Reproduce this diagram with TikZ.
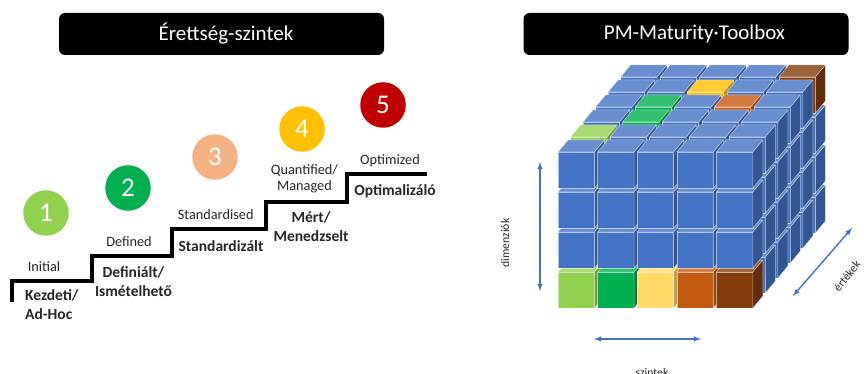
\documentclass[tikz,border=0pt]{standalone}
\usepackage{fontspec}
\setmainfont{Carlito}
\definecolor{cubeblue}{HTML}{4472C4}
\definecolor{lvlone}{HTML}{92D050}
\definecolor{lvltwo}{HTML}{00B050}
\definecolor{lvlthree}{HTML}{F4B183}
\definecolor{lvlfour}{HTML}{FFC000}
\definecolor{lvlfive}{HTML}{C00000}
\definecolor{cubeyellow}{HTML}{FFD966}
\definecolor{cubeorange}{HTML}{C55A11}
\definecolor{cubebrown}{HTML}{843C0C}
\definecolor{labelgray}{HTML}{262626}
\begin{document}
\begin{tikzpicture}[x=1pt,y=-1pt,
    titlebox/.style={fill=black,rounded corners=6pt,minimum width=325pt,
        minimum height=42pt,inner sep=0pt},
    titletext/.style={text=white,font=\fontsize{21}{25}\selectfont,inner sep=0pt},
    lvl/.style={circle,minimum size=45.5pt,inner sep=0pt,text=white,
        font=\fontsize{27}{30}\selectfont},
    en/.style={text=labelgray,font=\fontsize{14.3}{16.5}\selectfont,
        align=center,inner sep=0pt},
    hu/.style={text=labelgray,font=\fontsize{15.5}{18.5}\selectfont\bfseries,
        align=center,inner sep=0pt},
    axis/.style={cubeblue,line width=1.4pt,<->,>=latex},
    axislabel/.style={text=labelgray,font=\fontsize{11.7}{13}\selectfont,inner sep=0pt},
    cubeedge/.style={draw=white,draw opacity=0.55,line width=0.5pt,line join=round},
    cubefill/.code={\def\cubecol{#1}},
    cube 1-1-1/.style={cubefill=lvlone},
    cube 2-1-1/.style={cubefill=lvltwo},
    cube 3-1-1/.style={cubefill=cubeyellow},
    cube 4-1-1/.style={cubefill=cubeorange},
    cube 5-1-1/.style={cubefill=cubebrown},
    cube 1-4-2/.style={cubefill=lvlone},
    cube 2-4-3/.style={cubefill=lvltwo},
    cube 2-4-4/.style={cubefill=lvltwo},
    cube 3-4-5/.style={cubefill=lvlfour},
    cube 4-4-4/.style={cubefill=cubeorange},
    cube 5-4-6/.style={cubefill=cubebrown}]

    \useasboundingbox (0,0) rectangle (864,374);
    \clip (0,0) rectangle (864,374);

    % the titles

    \node[titlebox] (levelbox) at (221.5,34) {};
    \node[titletext] (leveltitle) at (226,34) {Érettség-szintek};
    \node[titlebox] (toolbox) at (686,34) {};
    \node[titletext] (tooltitle) at (694.5,34) {PM-Maturity·Toolbox};

    % the levels

    \node[lvl,fill=lvlone] (l1) at (46,213) {1};
    \node[lvl,fill=lvltwo] (l2) at (128,188) {2};
    \node[lvl,fill=lvlthree] (l3) at (215,157) {3};
    \node[lvl,fill=lvlfour] (l4) at (302,129) {4};
    \node[lvl,fill=lvlfive] (l5) at (383,105) {5};

    \draw[line width=3.2pt] (12,302) |- (92,281) |- (172,256) |- (266,229)
    |- (347,202) |- (427,174);

    \node[en] (initial) at (44,267) {Initial};
    \node[hu,align=left,anchor=west] (kezdeti) at (25,304.5) {Kezdeti/\\Ad-Hoc};
    \node[en] (defined) at (129,242) {Defined};
    \node[hu] (definialt) at (133.5,281.7) {Definiált/\\Ismételhető};
    \node[en] (standardised) at (215.7,215) {Standardised};
    \node[hu] (standardizalt) at (221,246) {Standardizált};
    \node[en] (quantified) at (304.5,179) {Quantified/\\Managed};
    \node[hu] (mert) at (311,226.7) {Mért/\\Menedzselt};
    \node[en] (optimized) at (390,161) {Optimized};
    \node[hu] (optimalizalo) at (395,191) {Optimalizáló};

    % the cubes, back to front

    \foreach \lay in {6,...,1}
    \foreach \col in {1,...,5}
    \foreach \row in {1,...,4} {
        \pgfmathsetmacro\X{558+(\col-1)*39.6+(\lay-1)*12.5}
        \pgfmathsetmacro\Yb{308-(\row-1)*40-(\lay-1)*15}
        \pgfmathsetmacro\Yt{\Yb-36}
        \tikzset{cubefill=cubeblue,cube \col-\row-\lay/.try}
        \filldraw[cubeedge,fill=\cubecol] (\X,\Yb) rectangle (\X+36.5,\Yt);
        \filldraw[cubeedge,fill=\cubecol!80!white] (\X,\Yt) -- (\X+36.5,\Yt)
        -- (\X+46.5,\Yt-12) -- (\X+10,\Yt-12) -- cycle;
        \filldraw[cubeedge,fill=\cubecol!75!black] (\X+36.5,\Yb) -- (\X+36.5,\Yt)
        -- (\X+46.5,\Yt-12) -- (\X+46.5,\Yb-12) -- cycle;
    }

    % the axes

    \coordinate (dimtop) at (540,162);
    \coordinate (dimbot) at (540,291);
    \coordinate (szleft) at (594,339);
    \coordinate (szright) at (701,339);
    \coordinate (ertlow) at (793,296);
    \coordinate (erthigh) at (852,228);

    \draw[axis] (dimtop) -- (dimbot);
    \draw[axis] (szleft) -- (szright);
    \draw[axis] (ertlow) -- (erthigh);

    \node[axislabel,rotate=90] (dimlabel) at (505,243) {dimenziók};
    \node[axislabel,anchor=base] (szlabel) at (652,376) {szintek};
    \node[axislabel,rotate=52] (ertlabel) at (847,276) {értékek};
  \end{tikzpicture}
\end{document}
